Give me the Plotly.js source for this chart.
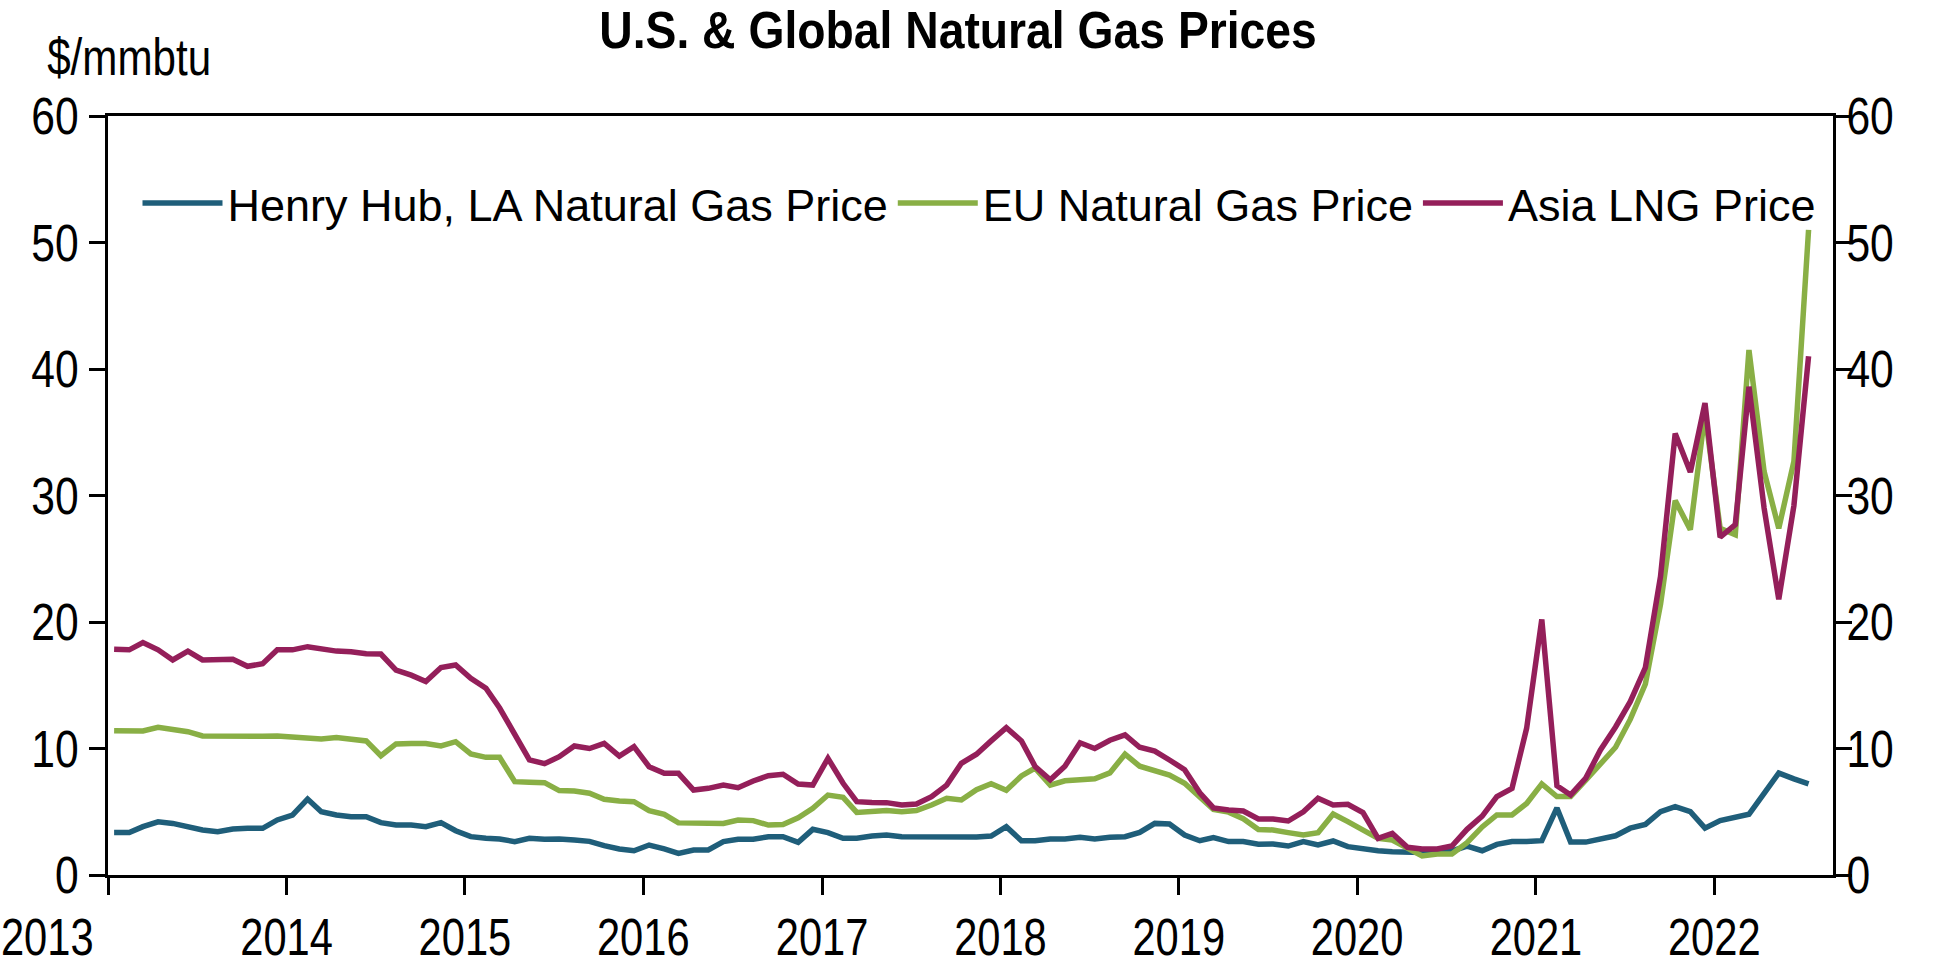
<!DOCTYPE html>
<html>
<head>
<meta charset="utf-8">
<script src="https://cdn.plot.ly/plotly-3.0.1.min.js"></script>
<style>html,body{margin:0;padding:0;background:#fff;}#chart{width:1950px;height:964px;}</style>
</head>
<body>
<div id="chart"></div>
<script>
// Monthly observations, Jan 2013 .. Jul 2022 ($/mmbtu)
const startYear = 2013;
const nMonths = 115;

const henryHub = [
  3.35, 3.35, 3.82, 4.20, 4.08, 3.77, 3.56, 3.43, 3.64, 3.69, 3.69, 4.35,
  4.74, 6.00, 5.00, 4.74, 4.61, 4.61, 4.14, 3.95, 3.95, 3.82, 4.14, 3.50,
  3.03, 2.90, 2.85, 2.64, 2.90, 2.82, 2.85, 2.77, 2.66, 2.32, 2.06, 1.92,
  2.37, 2.06, 1.71, 1.98, 1.98, 2.64, 2.82, 2.82, 3.03, 3.03, 2.58, 3.61,
  3.35, 2.90, 2.90, 3.08, 3.16, 3.03, 3.03, 2.95, 3.03, 2.95, 3.00, 3.08,
  3.82, 2.71, 2.71, 2.85, 2.85, 2.98, 2.85, 2.98, 3.03, 3.37, 4.08, 4.03,
  3.16, 2.71, 2.95, 2.64, 2.64, 2.43, 2.45, 2.29, 2.64, 2.37, 2.69, 2.24,
  2.03, 1.92, 1.84, 1.77, 1.77, 1.79, 1.90, 2.29, 1.92, 2.42, 2.64, 2.64,
  2.71, 5.30, 2.60, 2.60, 2.85, 3.10, 3.70, 4.00, 5.00, 5.40, 5.00, 3.70,
  4.30, 4.60, 4.80, 6.45, 8.06, 7.60, 7.20
];

const euGas = [
  11.41, 11.38, 11.38, 11.67, 11.46, 11.33, 10.99, 10.96, 10.94, 10.94, 10.96, 10.99,
  10.94, 10.86, 10.75, 10.86, 10.75, 10.60, 9.43, 10.36, 10.40, 10.40, 10.20, 10.54,
  9.57, 9.30, 9.30, 7.38, 7.33, 7.30, 6.67, 6.64, 6.46, 5.98, 5.85, 5.80,
  5.09, 4.80, 4.12, 4.10, 4.08, 4.08, 4.35, 4.30, 3.95, 4.00, 4.53, 5.27,
  6.32, 6.14, 4.95, 5.06, 5.09, 5.00, 5.09, 5.53, 6.06, 5.93, 6.75, 7.22,
  6.70, 7.83, 8.45, 7.11, 7.45, 7.53, 7.60, 8.07, 9.55, 8.60, 8.20, 7.90,
  7.25, 6.15, 5.18, 4.97, 4.45, 3.60, 3.56, 3.35, 3.16, 3.35, 4.82, 4.22,
  3.56, 2.90, 2.77, 2.11, 1.50, 1.66, 1.66, 2.55, 3.80, 4.75, 4.75, 5.65,
  7.20, 6.20, 6.20, 7.50, 8.75, 10.10, 12.30, 15.10, 21.40, 29.60, 27.30, 36.50,
  27.40, 26.90, 41.50, 31.90, 27.40, 32.70, 51.00
];

const asiaLng = [
  17.84, 17.80, 18.37, 17.80, 17.00, 17.70, 17.00, 17.00, 17.05, 16.50, 16.70, 17.80,
  17.80, 18.05, 17.84, 17.70, 17.65, 17.50, 17.47, 16.20, 15.80, 15.30, 16.40, 16.60,
  15.55, 14.76, 13.20, 11.10, 9.10, 8.80, 9.35, 10.20, 10.00, 10.40, 9.40, 10.15,
  8.56, 8.04, 8.04, 6.72, 6.85, 7.11, 6.90, 7.43, 7.85, 7.96, 7.19, 7.11,
  9.22, 7.25, 5.80, 5.74, 5.72, 5.53, 5.61, 6.19, 7.11, 8.83, 9.55, 10.60,
  11.65, 10.60, 8.58, 7.53, 8.60, 10.45, 10.00, 10.65, 11.07, 10.10, 9.80, 9.09,
  8.33, 6.50, 5.30, 5.14, 5.06, 4.43, 4.43, 4.27, 5.00, 6.06, 5.53, 5.59,
  4.93, 2.90, 3.29, 2.19, 2.06, 2.06, 2.29, 3.61, 4.66, 6.19, 6.85, 11.60,
  20.20, 7.06, 6.33, 7.66, 9.88, 11.70, 13.70, 16.40, 23.60, 34.90, 31.85, 37.30,
  26.70, 27.70, 38.60, 29.00, 21.80, 29.20, 41.00
];

const seriesNames = ["Henry Hub, LA Natural Gas Price", "EU Natural Gas Price", "Asia LNG Price"];
const seriesColors = ["#1F5E7A", "#89AF45", "#941F5A"];
const seriesAxes = ["y", "y", "y2"];   // right-hand axis mirrors the left one (same 0-60 scale)

// month dates (plotted slightly inside each month, as in the source chart)
const months = [];
for (let i = 0; i < nMonths; i++) {
  const y = startYear + Math.floor(i / 12);
  const m = (i % 12) + 1;
  months.push(y + "-" + String(m).padStart(2, "0") + "-13");
}

const FONT = '"Liberation Sans", Arial, sans-serif';

const traces = [henryHub, euGas, asiaLng].map((vals, k) => ({
  type: "scatter",
  mode: "lines",
  x: months,
  y: vals,
  yaxis: seriesAxes[k],
  name: seriesNames[k],
  line: {color: seriesColors[k], width: 5.5},
  hoverinfo: "x+y+name"
}));

const axisCommon = {
  range: [0, 60],
  tick0: 0,
  dtick: 10,
  ticks: "outside",
  ticklen: 16,
  tickwidth: 3,
  tickcolor: "#000",
  showline: true,
  linewidth: 3,
  linecolor: "#000",
  showgrid: false,
  zeroline: false,
  fixedrange: true,
  tickfont: {family: FONT, size: 52, color: "#000"}
};

const layout = {
  width: 1950,
  height: 964,
  paper_bgcolor: "#fff",
  plot_bgcolor: "#fff",
  margin: {l: 108, r: 117, t: 116, b: 89},
  font: {family: FONT, color: "#000"},
  title: {
    text: "U.S. & Global Natural Gas Prices",
    font: {family: FONT, size: 52, color: "#000", weight: "bold"},
    x: 0.4913, xref: "container", xanchor: "center",
    y: 0.969, yref: "container", yanchor: "middle"
  },
  xaxis: {
    type: "date",
    range: ["2012-12-31 12:00", "2022-09-01"],
    tick0: "2013-01-01",
    dtick: "M12",
    tickformat: "%Y",
    ticks: "outside",
    ticklen: 17,
    tickwidth: 3,
    tickcolor: "#000",
    showline: true,
    mirror: true,
    linewidth: 3,
    linecolor: "#000",
    showgrid: false,
    zeroline: false,
    fixedrange: true,
    ticklabelstandoff: -2,
    tickfont: {family: FONT, size: 52, color: "#000"}
  },
  yaxis: Object.assign({}, axisCommon, {ticklabelstandoff: 0}),
  yaxis2: Object.assign({}, axisCommon, {overlaying: "y", side: "right", anchor: "x", ticklabelstandoff: -16}),
  showlegend: true,
  legend: {
    orientation: "h",
    x: 0.0171, xanchor: "left",
    y: 0.885, yanchor: "middle",
    bgcolor: "rgba(0,0,0,0)",
    font: {family: FONT, size: 45, color: "#000"},
    itemwidth: 80,
    tracegroupgap: 0
  },
  annotations: [{
    text: "$/mmbtu",
    xref: "paper", yref: "paper",
    x: 0.0122, xanchor: "center",
    y: 1.0777, yanchor: "middle",
    showarrow: false,
    font: {family: FONT, size: 52, color: "#000"}
  }]
};

// condense text horizontally (the source chart uses a narrow typeface)
function condense(gd, selector, factor) {
  gd.querySelectorAll(selector).forEach(function (t) {
    const w = t.getComputedTextLength();
    if (w > 0) {
      t.setAttribute("textLength", (w * factor).toFixed(1));
      t.setAttribute("lengthAdjust", "spacingAndGlyphs");
    }
  });
}

Plotly.newPlot("chart", traces, layout, {displayModeBar: false}).then(function (gd) {
  condense(gd, ".xtick text", 0.8);
  condense(gd, ".ytick text", 0.82);
  condense(gd, ".y2tick text", 0.82);
  condense(gd, ".gtitle", 0.89);
  condense(gd, ".annotation-text", 0.81);
  // the source chart sets its first year label flush with the left edge
  gd.querySelectorAll(".xtick text").forEach(function (t) {
    if (t.textContent === String(startYear)) t.setAttribute("dx", "-61");
  });
});
</script>
</body>
</html>
